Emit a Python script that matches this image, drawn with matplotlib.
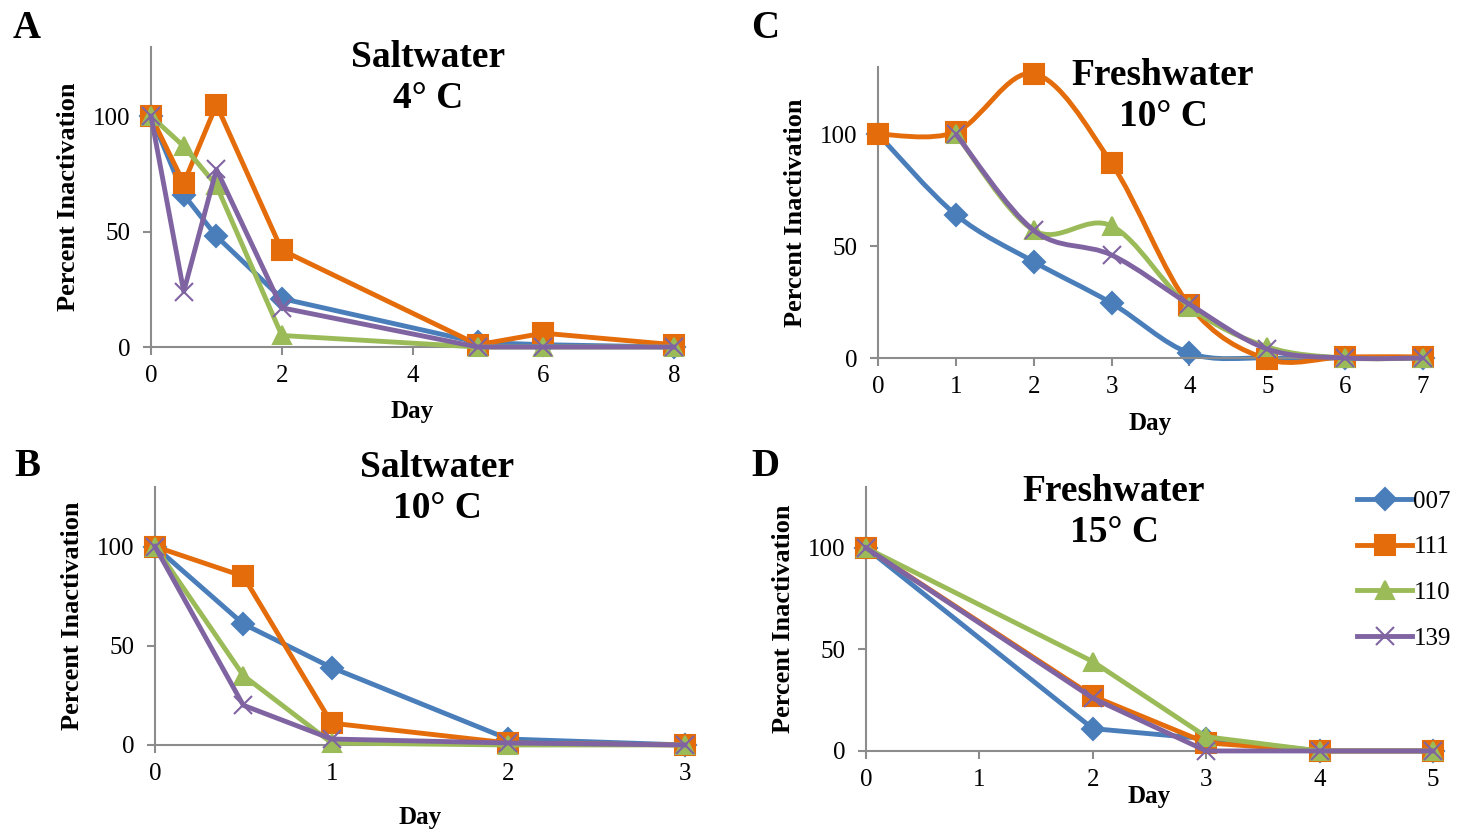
import matplotlib.pyplot as plt
from matplotlib.path import Path
from matplotlib.patches import PathPatch

plt.rcParams['font.family'] = ['Liberation Serif', 'DejaVu Serif']

# strains
strains = ['007', '111', '110', '139']
colors = ['#4A7EBB', '#E46C0A', '#9BBB59', '#8064A2']
markers = ['D', 's', '^', 'x']
msizes = [11, 14, 13, 13]

# A: saltwater 4 C
days_a = [0, 0.5, 1, 2, 5, 6, 8]
a_007 = [100, 66, 48, 21, 2, 1, 0]
a_111 = [100, 71, 105, 42, 1, 6, 1]
a_110 = [100, 87, 70, 5, 0, 0, 0]
a_139 = [100, 24, 77, 17, 0, 0, 0]

# B: saltwater 10 C
days_b = [0, 0.5, 1, 2, 3]
b_007 = [100, 61, 39, 3, 0]
b_111 = [100, 85, 11, 1, 0]
b_110 = [100, 35, 1, 0, 0]
b_139 = [100, 20, 3, 1, 0]

# C: freshwater 10 C (smoothed lines)
days_c = [0, 1, 2, 3, 4, 5, 6, 7]
days_c2 = [1, 2, 3, 4, 5, 6, 7]
c_007 = [100, 64, 43, 24.5, 2.2, 0, 0, 0]
c_111 = [100, 101, 127, 87, 23.5, -0.5, 0.5, 0.5]
c_110 = [100, 57, 59, 23, 5, 0, 0]
c_139 = [100, 57, 46, 24, 4, 0, 0]

# D: freshwater 15 C
days_d = [0, 2, 3, 4, 5]
d_007 = [100, 11, 6, 0, 0]
d_111 = [100, 27, 4, 0, 0]
d_110 = [100, 44, 7, 0, 0]
d_139 = [100, 26, 0, 0, 0]


def smooth_path(x, y):
    # bezier segments similar to excel's smoothed line
    n = len(x)
    verts = [(x[0], y[0])]
    codes = [Path.MOVETO]
    for i in range(n - 1):
        x0, y0 = (x[i - 1], y[i - 1]) if i > 0 else (x[i], y[i])
        x3, y3 = (x[i + 2], y[i + 2]) if i + 2 < n else (x[i + 1], y[i + 1])
        c1 = (x[i] + (x[i + 1] - x0) / 6, y[i] + (y[i + 1] - y0) / 6)
        c2 = (x[i + 1] - (x3 - x[i]) / 6, y[i + 1] - (y3 - y[i]) / 6)
        verts += [c1, c2, (x[i + 1], y[i + 1])]
        codes += [Path.CURVE4] * 3
    return Path(verts, codes)


def style_axes(ax, xmax, xticks):
    ax.set_xlim(0, xmax)
    ax.set_ylim(0, 130)
    ax.set_xticks(xticks)
    ax.set_yticks([0, 50, 100])
    for s in ['top', 'right']:
        ax.spines[s].set_visible(False)
    for s in ['left', 'bottom']:
        ax.spines[s].set_color('#8C8C8C')
        ax.spines[s].set_linewidth(1.5)
    ax.tick_params(axis='both', colors='#8C8C8C', labelcolor='black',
                   labelsize=18, length=6, width=1.5)
    ax.tick_params(axis='x', pad=7)
    ax.tick_params(axis='y', pad=9)
    ax.set_ylabel('Percent Inactivation', fontsize=19, fontweight='bold', labelpad=9)


def draw(ax, xs, series, smooth=False):
    for i in range(len(series)):
        x = xs[i]
        y = series[i]
        if smooth:
            ax.add_patch(PathPatch(smooth_path(x, y), fill=False, edgecolor=colors[i],
                                   lw=3.5, clip_on=False, zorder=2 + i))
            ax.plot(x, y, ls='none', marker=markers[i], ms=msizes[i], color=colors[i],
                    mew=1.5, clip_on=False, zorder=2 + i, label=strains[i])
        else:
            ax.plot(x, y, lw=3.5, marker=markers[i], ms=msizes[i], color=colors[i],
                    mew=1.5, clip_on=False, zorder=2 + i, label=strains[i])


fig = plt.figure(figsize=(14.58, 8.32), dpi=100)

axA = fig.add_axes([0.1036, 0.5829, 0.3587, 0.3606])
draw(axA, [days_a] * 4, [a_007, a_111, a_110, a_139])
style_axes(axA, 8, [0, 2, 4, 6, 8])
axA.set_xlabel('Day', fontsize=18, fontweight='bold')
axA.xaxis.set_label_coords(0.5, -0.177)

axB = fig.add_axes([0.1063, 0.1046, 0.3635, 0.3101])
draw(axB, [days_b] * 4, [b_007, b_111, b_110, b_139])
style_axes(axB, 3, [0, 1, 2, 3])
axB.set_xlabel('Day', fontsize=18, fontweight='bold')
axB.xaxis.set_label_coords(0.5, -0.236)

axC = fig.add_axes([0.6022, 0.5697, 0.3738, 0.3498])
draw(axC, [days_c, days_c, days_c2, days_c2], [c_007, c_111, c_110, c_139], smooth=True)
style_axes(axC, 7, list(range(8)))
axC.set_xlabel('Day', fontsize=18, fontweight='bold')
axC.xaxis.set_label_coords(0.5, -0.186)

axD = fig.add_axes([0.594, 0.0974, 0.3889, 0.3173])
draw(axD, [days_d] * 4, [d_007, d_111, d_110, d_139])
style_axes(axD, 5, [0, 1, 2, 3, 4, 5])
axD.set_xlabel('Day', fontsize=18, fontweight='bold')
axD.xaxis.set_label_coords(0.5, -0.129)

leg = fig.legend(*axD.get_legend_handles_labels(), loc='upper left',
                 bbox_to_anchor=(0.924, 0.423), frameon=False, fontsize=18,
                 handlelength=2.2, handletextpad=0.05, labelspacing=0.93,
                 borderaxespad=0)

# panel titles
fig.text(428 / 1458, 1 - 78 / 832, 'Saltwater\n4° C', ha='center', va='center',
         fontsize=27, fontweight='bold', linespacing=1.22)
fig.text(437 / 1458, 1 - 488 / 832, 'Saltwater\n10° C', ha='center', va='center',
         fontsize=27, fontweight='bold', linespacing=1.22)
fig.text(1163 / 1458, 1 - 96 / 832, 'Freshwater\n10° C', ha='center', va='center',
         fontsize=27, fontweight='bold', linespacing=1.22)
fig.text(1114 / 1458, 1 - 512 / 832, 'Freshwater\n15° C', ha='center', va='center',
         fontsize=27, fontweight='bold', linespacing=1.22)

# panel letters
for lab, x, y in [('A', 27, 28), ('B', 27, 466), ('C', 765, 28), ('D', 765, 466)]:
    fig.text(x / 1458, 1 - y / 832, lab, ha='center', va='center',
             fontsize=28, fontweight='bold')

fig.savefig('out.png', dpi=100)
